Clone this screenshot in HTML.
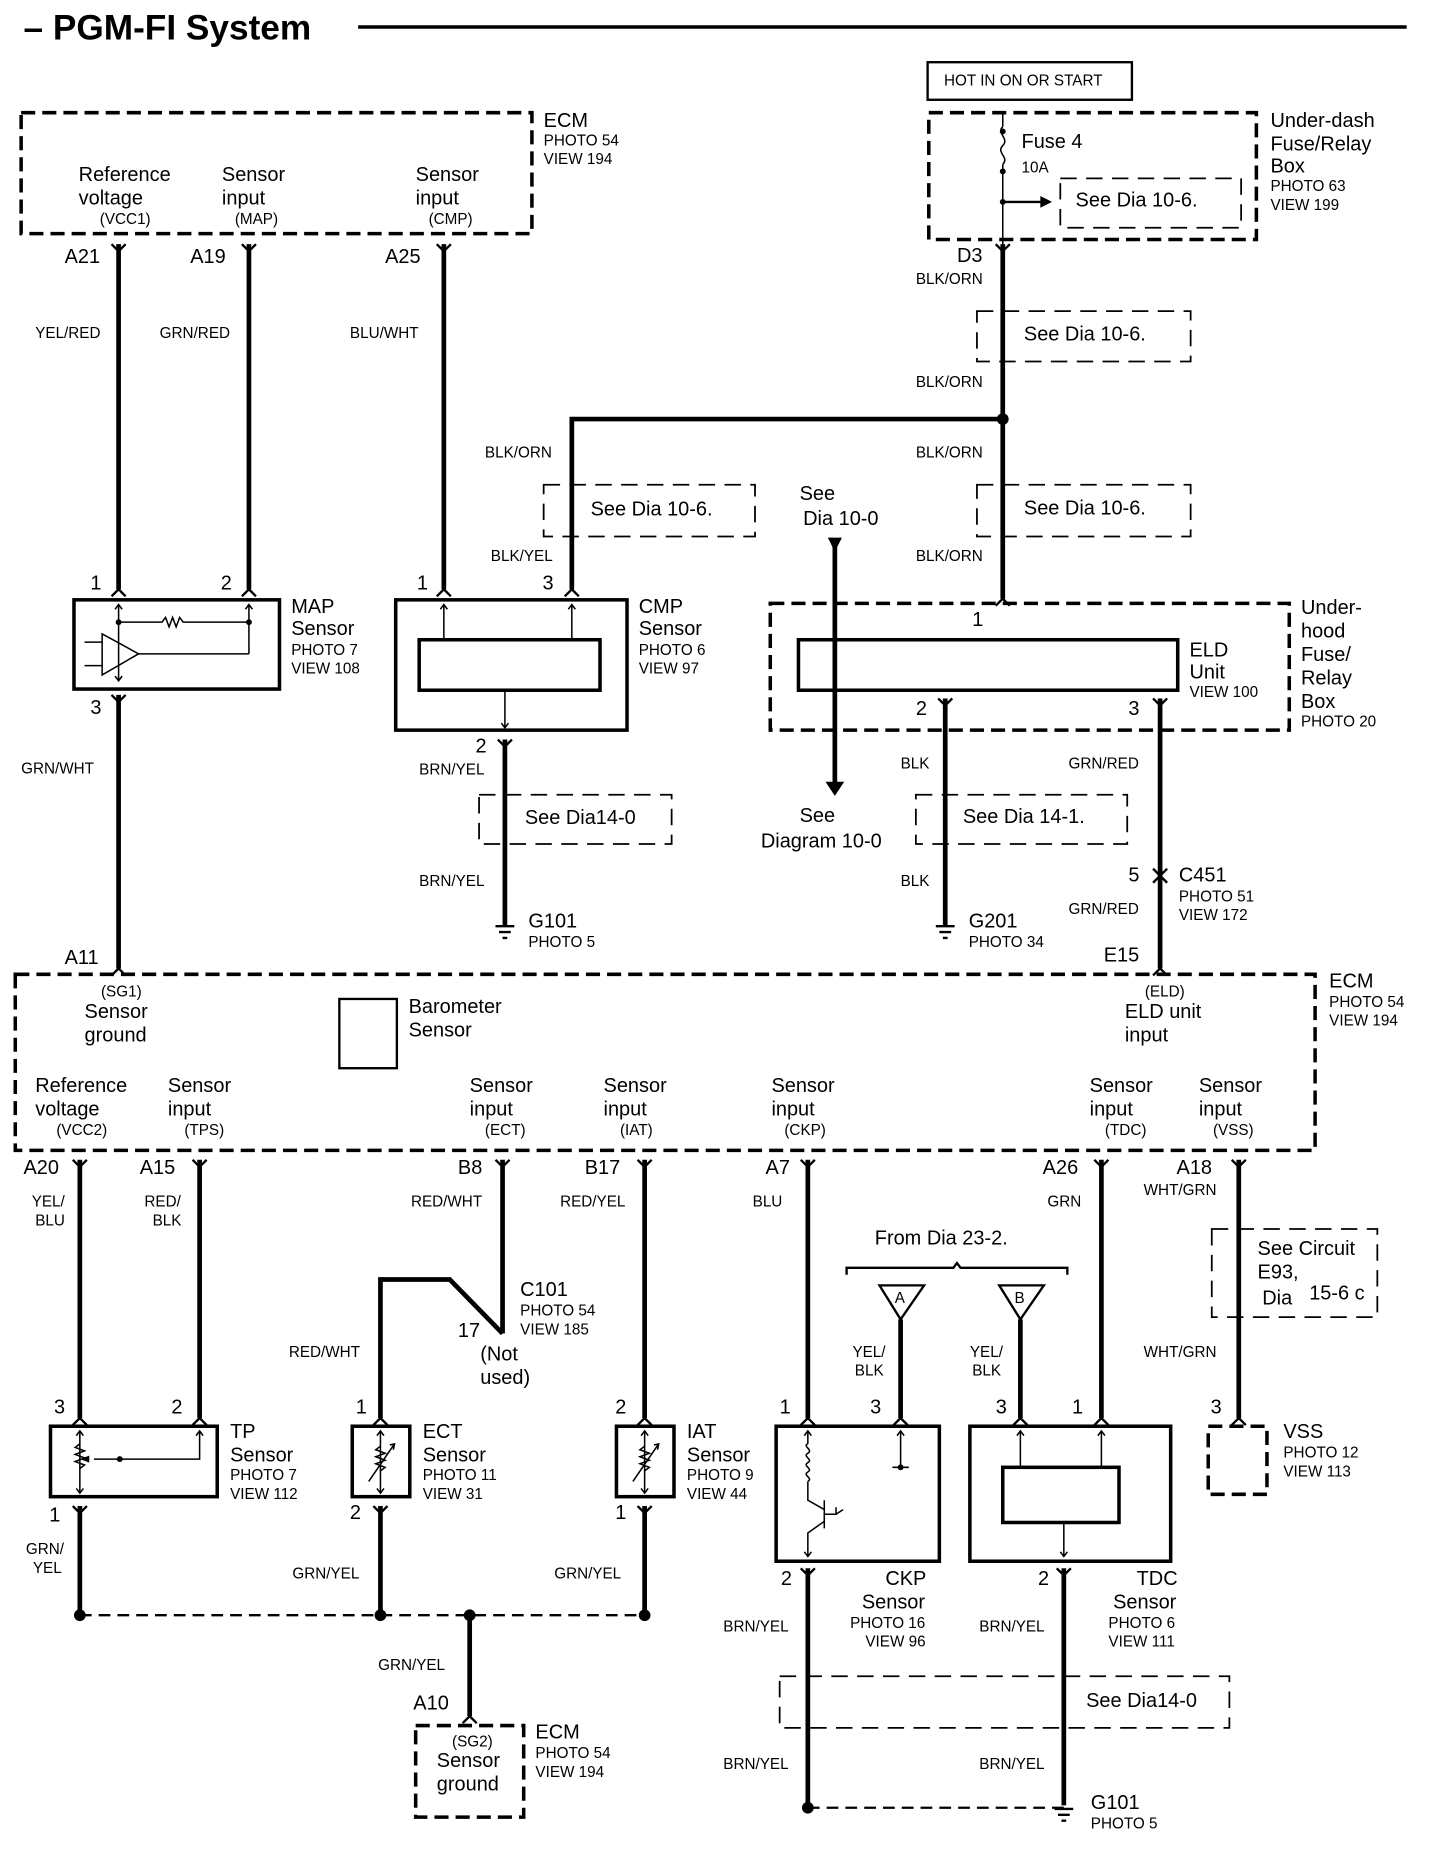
<!DOCTYPE html>
<html><head><meta charset="utf-8"><style>
html,body{margin:0;padding:0;background:#fff;}
svg{display:block;}
text{font-family:"Liberation Sans",Arial,sans-serif;fill:#000;dominant-baseline:central;}
.L{font-size:17px}.S{font-size:13px}.T{font-size:30px;font-weight:bold}
.w{stroke:#000;stroke-width:4;fill:none}
.t{stroke:#000;stroke-width:1.3;fill:none}
.b{stroke:#000;stroke-width:3;fill:none}
.d{stroke:#000;stroke-width:3;fill:none;stroke-dasharray:12 6}
.s{stroke:#000;stroke-width:1.5;fill:none;stroke-dasharray:14 8}
.p{stroke:#000;stroke-width:2;fill:none}
</style></head><body>
<svg width="1456" height="1850" viewBox="0 0 1240 1576" preserveAspectRatio="none" xmlns="http://www.w3.org/2000/svg">
<rect width="1240" height="1576" fill="#fff"/>
<text x="20" y="24" class="T">– PGM-FI System</text>
<line x1="305" y1="23" x2="1198" y2="23" class="b"/>

<!-- top ECM -->
<rect x="18" y="96" width="435" height="103" class="d"/>
<text x="463" y="103" class="L">ECM</text><text x="463" y="120" class="S">PHOTO 54</text><text x="463" y="136" class="S">VIEW 194</text>
<text x="67" y="149" class="L">Reference</text><text x="67" y="169" class="L">voltage</text><text x="85" y="187" class="S">(VCC1)</text>
<text x="189" y="149" class="L">Sensor</text><text x="189" y="169" class="L">input</text><text x="200" y="187" class="S">(MAP)</text>
<text x="354" y="149" class="L">Sensor</text><text x="354" y="169" class="L">input</text><text x="365" y="187" class="S">(CMP)</text>

<text x="55" y="219" class="L">A21</text><text x="162" y="219" class="L">A19</text><text x="328" y="219" class="L">A25</text>
<path d="M101 208V502M212 208V502M378 208V502" class="w"/>
<path d="M95 208L101 214L107 208M206 208L212 214L218 208M372 208L378 214L384 208" class="p"/>
<text x="30" y="284" class="S">YEL/RED</text><text x="136" y="284" class="S">GRN/RED</text><text x="298" y="284" class="S">BLU/WHT</text>

<!-- MAP -->
<text x="77" y="497" class="L">1</text><text x="188" y="497" class="L">2</text>
<path d="M95 508L101 502L107 508M206 508L212 502L218 508" class="p"/>
<rect x="63" y="511" width="175" height="76" class="b"/>
<path d="M101 515V580M98 519L101 515L104 519M98 576L101 580L104 576M212 515V557M209 519L212 515L215 519M101 530H138l3-4 3 8 3-8 3 8 3-8 3 4H212M118 557H212M72 547H87M72 567H87" class="t"/>
<path d="M87 540V575L118 557Z" class="t"/>
<circle cx="101" cy="530" r="2.5"/><circle cx="212" cy="530" r="2.5"/>
<text x="248" y="517" class="L">MAP</text><text x="248" y="536" class="L">Sensor</text><text x="248" y="554" class="S">PHOTO 7</text><text x="248" y="570" class="S">VIEW 108</text>
<text x="77" y="603" class="L">3</text>
<path d="M101 592V825" class="w"/><path d="M95 592L101 598L107 592M95 831L101 825L107 831" class="p"/>
<text x="18" y="655" class="S">GRN/WHT</text>

<!-- CMP -->
<text x="355" y="497" class="L">1</text><text x="462" y="497" class="L">3</text>
<path d="M372 508L378 502L384 508M481 508L487 502L493 508" class="p"/>
<rect x="337" y="511" width="197" height="111" class="b"/>
<rect x="357" y="545" width="154" height="43" class="b"/>
<path d="M378 515V545M375 519L378 515L381 519M487 515V545M484 519L487 515L490 519M430 588V620M427 616L430 620L433 616" class="t"/>
<text x="544" y="517" class="L">CMP</text><text x="544" y="536" class="L">Sensor</text><text x="544" y="554" class="S">PHOTO 6</text><text x="544" y="570" class="S">VIEW 97</text>
<text x="405" y="636" class="L">2</text>
<path d="M430 630V788" class="w"/><path d="M424 630L430 636L436 630" class="p"/>
<text x="357" y="656" class="S">BRN/YEL</text>
<rect x="408" y="677" width="164" height="42" class="s"/>
<text x="447" y="697" class="L">See Dia14-0</text>
<text x="357" y="751" class="S">BRN/YEL</text>
<path d="M422 789H438M425 794H435M428 799H432" class="p"/>
<text x="450" y="785" class="L">G101</text><text x="450" y="803" class="S">PHOTO 5</text>

<!-- BLK/ORN bus -->
<path d="M487 502V357H854" class="w"/>
<circle cx="854" cy="357" r="5"/>
<text x="413" y="386" class="S">BLK/ORN</text>
<rect x="463" y="413" width="180" height="44" class="s"/>
<text x="503" y="434" class="L">See Dia 10-6.</text>
<text x="418" y="474" class="S">BLK/YEL</text>

<!-- fuse box -->
<rect x="790" y="53" width="174" height="32" class="p"/>
<text x="804" y="69" class="S">HOT IN ON OR START</text>
<rect x="791" y="96" width="279" height="108" class="d"/>
<path d="M854 96V108M854 140V208" class="t"/>
<path d="M854 108c-6 5 6 10 0 16s6 10 0 16" class="t"/>
<circle cx="854" cy="112" r="2.5"/><circle cx="854" cy="146" r="2.5"/><circle cx="854" cy="172" r="2.5"/>
<path d="M854 172H890" class="p"/><path d="M886 167L896 172L886 177Z"/>
<text x="870" y="121" class="L">Fuse 4</text><text x="870" y="143" class="S">10A</text>
<rect x="903" y="152" width="154" height="42" class="s"/>
<text x="916" y="171" class="L">See Dia 10-6.</text>
<text x="1082" y="103" class="L">Under-dash</text><text x="1082" y="123" class="L">Fuse/Relay</text><text x="1082" y="142" class="L">Box</text><text x="1082" y="159" class="S">PHOTO 63</text><text x="1082" y="175" class="S">VIEW 199</text>
<text x="815" y="218" class="L">D3</text>
<path d="M854 208V510" class="w"/><path d="M848 208L854 214L860 208M848 516L854 510L860 516" class="p"/>
<text x="780" y="238" class="S">BLK/ORN</text>
<rect x="832" y="265" width="182" height="43" class="s"/>
<text x="872" y="285" class="L">See Dia 10-6.</text>
<text x="780" y="326" class="S">BLK/ORN</text>
<text x="780" y="386" class="S">BLK/ORN</text>
<rect x="832" y="413" width="182" height="44" class="s"/>
<text x="872" y="433" class="L">See Dia 10-6.</text>
<text x="780" y="474" class="S">BLK/ORN</text>

<!-- see dia 10-0 -->
<text x="681" y="421" class="L">See</text><text x="684" y="442" class="L">Dia 10-0</text>
<path d="M711 460V668" class="w"/>
<path d="M705 458H717L711 470Z"/><path d="M703 666H719L711 678Z"/>
<text x="681" y="695" class="L">See</text><text x="648" y="717" class="L">Diagram 10-0</text>

<!-- ELD -->
<rect x="656" y="514" width="442" height="108" class="d"/>
<rect x="680" y="545" width="323" height="43" class="b"/>
<text x="828" y="528" class="L">1</text>
<text x="1013" y="554" class="L">ELD</text><text x="1013" y="573" class="L">Unit</text><text x="1013" y="590" class="S">VIEW 100</text>
<text x="1108" y="518" class="L">Under-</text><text x="1108" y="538" class="L">hood</text><text x="1108" y="558" class="L">Fuse/</text><text x="1108" y="578" class="L">Relay</text><text x="1108" y="598" class="L">Box</text><text x="1108" y="615" class="S">PHOTO 20</text>
<text x="780" y="604" class="L">2</text><text x="961" y="604" class="L">3</text>
<path d="M805 595V788M988 595V825" class="w"/>
<path d="M799 595L805 601L811 595M982 595L988 601L994 595M982 831L988 825L994 831" class="p"/>
<text x="767" y="651" class="S">BLK</text><text x="910" y="651" class="S">GRN/RED</text>
<rect x="780" y="677" width="180" height="42" class="s"/>
<text x="820" y="696" class="L">See Dia 14-1.</text>
<text x="767" y="751" class="S">BLK</text>
<path d="M797 789H813M800 794H810M803 799H807" class="p"/>
<text x="825" y="785" class="L">G201</text><text x="825" y="803" class="S">PHOTO 34</text>
<text x="961" y="746" class="L">5</text>
<path d="M982 740L988 746L994 740M982 752L988 746L994 752" class="p"/>
<text x="1004" y="746" class="L">C451</text><text x="1004" y="764" class="S">PHOTO 51</text><text x="1004" y="780" class="S">VIEW 172</text>
<text x="910" y="775" class="S">GRN/RED</text>
<text x="940" y="814" class="L">E15</text>
<text x="55" y="816" class="L">A11</text>

<!-- main ECM -->
<rect x="13" y="830" width="1107" height="150" class="d"/>
<text x="1132" y="836" class="L">ECM</text><text x="1132" y="854" class="S">PHOTO 54</text><text x="1132" y="870" class="S">VIEW 194</text>
<text x="86" y="845" class="S">(SG1)</text><text x="72" y="862" class="L">Sensor</text><text x="72" y="882" class="L">ground</text>
<rect x="289" y="851" width="49" height="59" class="p"/>
<text x="348" y="858" class="L">Barometer</text><text x="348" y="878" class="L">Sensor</text>
<text x="975" y="845" class="S">(ELD)</text><text x="958" y="862" class="L">ELD unit</text><text x="958" y="882" class="L">input</text>
<text x="30" y="925" class="L">Reference</text><text x="30" y="945" class="L">voltage</text><text x="48" y="963" class="S">(VCC2)</text>
<text x="143" y="925" class="L">Sensor</text><text x="143" y="945" class="L">input</text><text x="157" y="963" class="S">(TPS)</text>
<text x="400" y="925" class="L">Sensor</text><text x="400" y="945" class="L">input</text><text x="413" y="963" class="S">(ECT)</text>
<text x="514" y="925" class="L">Sensor</text><text x="514" y="945" class="L">input</text><text x="528" y="963" class="S">(IAT)</text>
<text x="657" y="925" class="L">Sensor</text><text x="657" y="945" class="L">input</text><text x="668" y="963" class="S">(CKP)</text>
<text x="928" y="925" class="L">Sensor</text><text x="928" y="945" class="L">input</text><text x="941" y="963" class="S">(TDC)</text>
<text x="1021" y="925" class="L">Sensor</text><text x="1021" y="945" class="L">input</text><text x="1033" y="963" class="S">(VSS)</text>

<text x="20" y="995" class="L">A20</text><text x="119" y="995" class="L">A15</text><text x="390" y="995" class="L">B8</text><text x="498" y="995" class="L">B17</text><text x="652" y="995" class="L">A7</text><text x="888" y="995" class="L">A26</text><text x="1002" y="995" class="L">A18</text>
<path d="M68 988V1208M170 988V1208M428 988V1136M549 988V1208M688 988V1208M938 988V1208M1055 988V1208" class="w"/>
<path d="M62 988L68 994L74 988M164 988L170 994L176 988M422 988L428 994L434 988M543 988L549 994L555 988M682 988L688 994L694 988M932 988L938 994L944 988M1049 988L1055 994L1061 988" class="p"/>
<text x="27" y="1024" class="S">YEL/</text><text x="30" y="1040" class="S">BLU</text>
<text x="123" y="1024" class="S">RED/</text><text x="130" y="1040" class="S">BLK</text>
<text x="350" y="1024" class="S">RED/WHT</text><text x="477" y="1024" class="S">RED/YEL</text><text x="641" y="1024" class="S">BLU</text><text x="892" y="1024" class="S">GRN</text><text x="974" y="1014" class="S">WHT/GRN</text>

<!-- pin marks bottom -->
<path d="M62 1214L68 1208L74 1214M164 1214L170 1208L176 1214M318 1214L324 1208L330 1214M543 1214L549 1208L555 1214M682 1214L688 1208L694 1214M761 1214L767 1208L773 1214M863 1214L869 1208L875 1214M932 1214L938 1208L944 1214M1049 1214L1055 1208L1061 1214" class="p"/>
<path d="M62 1283L68 1289L74 1283M318 1283L324 1289L330 1283M543 1283L549 1289L555 1283M682 1336L688 1342L694 1336M900 1336L906 1342L912 1336" class="p"/>

<!-- TP -->
<text x="46" y="1199" class="L">3</text><text x="146" y="1199" class="L">2</text>
<rect x="43" y="1215" width="142" height="60" class="b"/>
<path d="M68 1219V1272M65 1223L68 1219L71 1223M65 1268L68 1272L71 1268M170 1219V1243H80M167 1223L170 1219L173 1223" class="t"/>
<path d="M68 1230l-4 3 8 3-8 3 8 3-8 3 8 3-4 3" class="t" fill="#fff"/>
<path d="M68 1243L76 1240V1246Z"/><circle cx="102" cy="1243" r="2.5"/>
<text x="196" y="1220" class="L">TP</text><text x="196" y="1240" class="L">Sensor</text><text x="196" y="1257" class="S">PHOTO 7</text><text x="196" y="1273" class="S">VIEW 112</text>
<text x="42" y="1291" class="L">1</text>
<text x="22" y="1320" class="S">GRN/</text><text x="28" y="1336" class="S">YEL</text>

<!-- ECT -->
<path d="M428 1136L383 1090H324V1208" class="w"/>
<text x="443" y="1099" class="L">C101</text><text x="443" y="1117" class="S">PHOTO 54</text><text x="443" y="1133" class="S">VIEW 185</text>
<text x="390" y="1134" class="L">17</text><text x="409" y="1154" class="L">(Not</text><text x="409" y="1174" class="L">used)</text>
<text x="246" y="1152" class="S">RED/WHT</text>
<text x="303" y="1199" class="L">1</text>
<rect x="300" y="1215" width="49" height="60" class="b"/>
<path d="M324 1219V1272M321 1223L324 1219L327 1223M321 1268L324 1272L327 1268M314 1262L336 1230M332 1231L336 1230L335 1235" class="t"/>
<path d="M324 1232l-4 3 8 3-8 3 8 3-8 3 8 3-4 3" class="t" fill="#fff"/>
<text x="360" y="1220" class="L">ECT</text><text x="360" y="1240" class="L">Sensor</text><text x="360" y="1257" class="S">PHOTO 11</text><text x="360" y="1273" class="S">VIEW 31</text>
<text x="298" y="1289" class="L">2</text>
<text x="249" y="1341" class="S">GRN/YEL</text>

<!-- IAT -->
<text x="524" y="1199" class="L">2</text>
<rect x="525" y="1215" width="49" height="60" class="b"/>
<path d="M549 1219V1272M546 1223L549 1219L552 1223M546 1268L549 1272L552 1268M539 1262L561 1230M557 1231L561 1230L560 1235" class="t"/>
<path d="M549 1232l-4 3 8 3-8 3 8 3-8 3 8 3-4 3" class="t" fill="#fff"/>
<text x="585" y="1220" class="L">IAT</text><text x="585" y="1240" class="L">Sensor</text><text x="585" y="1257" class="S">PHOTO 9</text><text x="585" y="1273" class="S">VIEW 44</text>
<text x="524" y="1289" class="L">1</text>
<text x="472" y="1341" class="S">GRN/YEL</text>

<path d="M68 1283V1376M324 1283V1376M549 1283V1376M400 1376V1462" class="w"/>
<path d="M68 1376H549" class="p" stroke-dasharray="10 6"/>
<circle cx="68" cy="1376" r="5"/><circle cx="324" cy="1376" r="5"/><circle cx="400" cy="1376" r="5"/><circle cx="549" cy="1376" r="5"/>
<text x="322" y="1419" class="S">GRN/YEL</text>
<text x="352" y="1451" class="L">A10</text>
<path d="M394 1468L400 1462L406 1468" class="p"/>
<rect x="354" y="1470" width="92" height="78" class="d"/>
<text x="385" y="1484" class="S">(SG2)</text><text x="372" y="1500" class="L">Sensor</text><text x="372" y="1520" class="L">ground</text>
<text x="456" y="1476" class="L">ECM</text><text x="456" y="1494" class="S">PHOTO 54</text><text x="456" y="1510" class="S">VIEW 194</text>

<!-- CKP / TDC -->
<text x="745" y="1055" class="L">From Dia 23-2.</text>
<path d="M721 1086V1080H812L815 1076L818 1080H909V1086" class="p"/>
<path d="M749 1095H787L767 1124Z M851 1095H889L869 1124Z" class="p"/>
<text x="762" y="1106" class="S">A</text><text x="864" y="1106" class="S">B</text>
<path d="M767 1124V1208M869 1124V1208" class="w"/>
<text x="726" y="1152" class="S">YEL/</text><text x="728" y="1168" class="S">BLK</text>
<text x="826" y="1152" class="S">YEL/</text><text x="828" y="1168" class="S">BLK</text>
<text x="664" y="1199" class="L">1</text><text x="741" y="1199" class="L">3</text><text x="848" y="1199" class="L">3</text><text x="913" y="1199" class="L">1</text>
<rect x="661" y="1215" width="139" height="115" class="b"/>
<path d="M688 1219V1230M685 1223L688 1219L691 1223M688 1262V1278L702 1286M702 1278V1302M702 1290H712V1284M712 1290L718 1286M702 1296L688 1306V1326M685 1322L688 1326L691 1322M767 1219V1250M764 1223L767 1219L770 1223M760 1250H774" class="t"/>
<path d="M688 1230c-5 2 5 5 0 8s5 5 0 8 5 5 0 8 5 5 0 8" class="t"/>
<circle cx="767" cy="1250" r="2.5"/>
<rect x="826" y="1215" width="171" height="115" class="b"/>
<rect x="854" y="1250" width="99" height="47" class="b"/>
<path d="M869 1219V1250M866 1223L869 1219L872 1223M938 1219V1250M935 1223L938 1219L941 1223M906 1297V1326M903 1322L906 1326L909 1322" class="t"/>
<text x="665" y="1345" class="L">2</text><text x="884" y="1345" class="L">2</text>
<text x="754" y="1345" class="L">CKP</text><text x="734" y="1365" class="L">Sensor</text><text x="724" y="1383" class="S">PHOTO 16</text><text x="737" y="1399" class="S">VIEW 96</text>
<text x="968" y="1345" class="L">TDC</text><text x="948" y="1365" class="L">Sensor</text><text x="944" y="1383" class="S">PHOTO 6</text><text x="944" y="1399" class="S">VIEW 111</text>
<path d="M688 1336V1540M906 1336V1538" class="w"/>
<text x="616" y="1386" class="S">BRN/YEL</text><text x="834" y="1386" class="S">BRN/YEL</text>
<rect x="664" y="1428" width="383" height="44" class="s"/>
<text x="925" y="1449" class="L">See Dia14-0</text>
<text x="616" y="1503" class="S">BRN/YEL</text><text x="834" y="1503" class="S">BRN/YEL</text>
<path d="M688 1540H906" class="p" stroke-dasharray="10 6"/>
<circle cx="688" cy="1540" r="5"/>
<path d="M898 1541H914M901 1546H911M904 1551H908" class="p"/>
<text x="929" y="1536" class="L">G101</text><text x="929" y="1554" class="S">PHOTO 5</text>

<!-- VSS -->
<rect x="1032" y="1047" width="141" height="75" class="s"/>
<text x="1071" y="1064" class="L">See Circuit</text><text x="1071" y="1084" class="L">E93,</text><text x="1075" y="1106" class="L">Dia</text><text x="1115" y="1102" class="L">15-6 c</text>
<text x="974" y="1152" class="S">WHT/GRN</text>
<text x="1031" y="1199" class="L">3</text>
<rect x="1029" y="1215" width="50" height="58" class="d"/>
<text x="1093" y="1220" class="L">VSS</text><text x="1093" y="1238" class="S">PHOTO 12</text><text x="1093" y="1254" class="S">VIEW 113</text>
</svg>
</body></html>
